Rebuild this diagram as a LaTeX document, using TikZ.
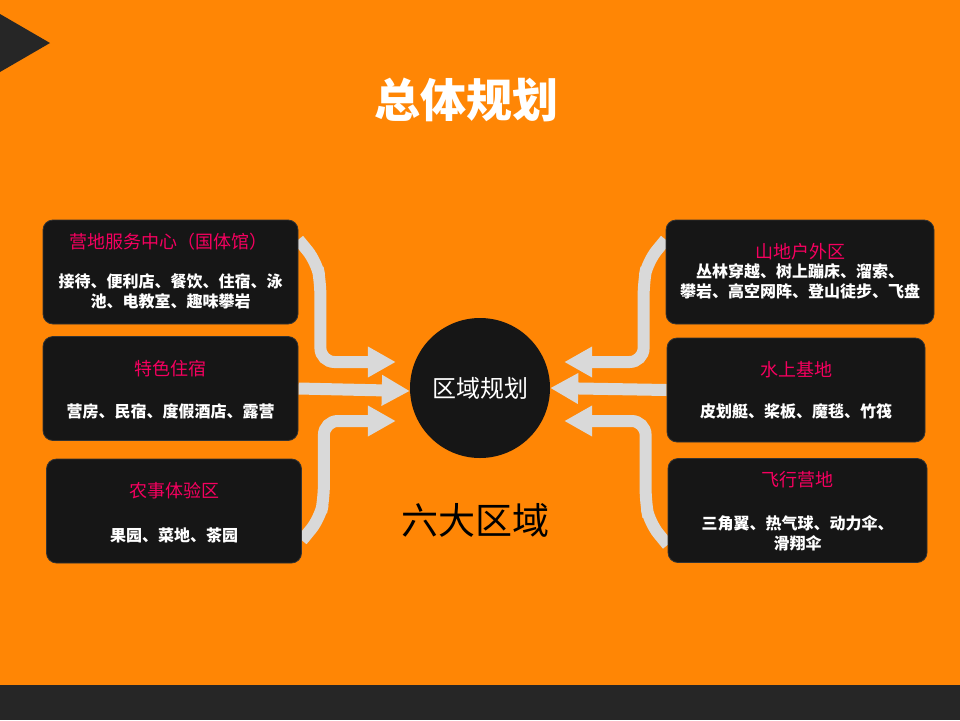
\documentclass[tikz,border=0pt]{standalone}
\usepackage{fontspec}
\setmainfont{Noto Sans CJK SC}
\usetikzlibrary{arrows.meta,calc}
\definecolor{bgorange}{HTML}{FF8605}
\definecolor{boxblack}{HTML}{161616}
\definecolor{bandgray}{HTML}{262626}
\definecolor{titlepink}{HTML}{F5005F}
\definecolor{flowgray}{HTML}{D9D9D9}
\pgfdeclarelayer{back}
\pgfdeclarelayer{flows}
\pgfsetlayers{back,flows,main}
\tikzset{
  zonebox/.style={draw=black!80, line width=0.8pt, fill=boxblack, rounded corners=10pt,
    minimum width=#1, minimum height=104pt, inner sep=0pt},
  zonebox/.default=255pt,
  zonetitle/.style={text=titlepink, font=\fontsize{18}{18}\selectfont, inner sep=0pt},
  zonebody/.style={text=white, font=\bfseries\fontsize{16}{19.5}\selectfont, align=center, inner sep=0pt},
  flow/.style={draw=flowgray, line width=12pt, rounded corners=14pt,
    -{Triangle[length=28pt,width=29pt]}},
}
\begin{document}
\begin{tikzpicture}[x=1pt, y=-1pt]
        \useasboundingbox (0,0) rectangle (960,720);
        \begin{pgfonlayer}{back}
        \fill[bgorange] (0,0) rectangle (960,720);
        \fill[bandgray] (0,685) rectangle (960,720);
        \fill[bandgray] (0,14) -- (50,43) -- (0,72) -- cycle;
        \end{pgfonlayer}
        % heading
        \node[text=white, font=\bfseries\fontsize{46}{46}\selectfont] (heading) at (466,100) {总体规划};
        % six zones
        \node[zonebox] (b1) at (170.5,272) {};
        \node[zonebox] (b2) at (170.5,388.5) {};
        \node[zonebox] (b3) at (174,511) {};
        \node[zonebox=268pt] (r1) at (800,272) {};
        \node[zonebox=258pt] (r2) at (796,390) {};
        \node[zonebox=259pt] (r3) at (797.5,510.5) {};
        \node[zonetitle] (b1t) at ($(b1.north)+(-2,22)$) {营地服务中心（国体馆）};
        \node[zonebody] (b1d) at ($(b1.north)+(0,72)$) {接待、便利店、餐饮、住宿、泳\\池、电教室、趣味攀岩};
        \node[zonetitle] (b2t) at ($(b2.north)+(0,33)$) {特色住宿};
        \node[zonebody] (b2d) at ($(b2.north)+(0,75)$) {营房、民宿、度假酒店、露营};
        \node[zonetitle] (b3t) at ($(b3.north)+(0,32)$) {农事体验区};
        \node[zonebody] (b3d) at ($(b3.north)+(0,77)$) {果园、菜地、茶园};
        \node[zonetitle] (r1t) at ($(r1.north)+(0,32)$) {山地户外区};
        \node[zonebody] (r1d) at ($(r1.north)+(0,61.5)$) {丛林穿越、树上蹦床、溜索、\\攀岩、高空网阵、登山徒步、飞盘};
        \node[zonetitle] (r2t) at ($(r2.north)+(0,32)$) {水上基地};
        \node[zonebody] (r2d) at ($(r2.north)+(0,74)$) {皮划艇、桨板、魔毯、竹筏};
        \node[zonetitle] (r3t) at ($(r3.north)+(0,22)$) {飞行营地};
        \node[zonebody] (r3d) at ($(r3.north)+(0,75)$) {三角翼、热气球、动力伞、\\滑翔伞};
        % hub
        \node[circle, fill=boxblack, minimum size=140pt, inner sep=0pt, text=white,
              font=\fontsize{24}{24}\selectfont] (hub) at (480,388) {区域规划};
        \node[font=\fontsize{37}{37}\selectfont] (six) at (475,520) {六大区域};
        \coordinate (hl1) at ($(hub.west)+(-14,-26)$);
        \coordinate (hl3) at ($(hub.west)+(-14,33)$);
        \coordinate (hr1) at ($(hub.east)+(14,-26)$);
        \coordinate (hr3) at ($(hub.east)+(14,33)$);
        % flows into the hub
        \begin{pgfonlayer}{flows}
        \draw[flow] ($(b1.north east)+(0,20)$) -- ++(18,22) -- ++(4,20) |- (hl1);
        \draw[flow] (b2.east) -- ($(hub.west)+(0,3)$);
        \draw[flow] ($(b3.south east)+(0,-23)$) -- ++(18,-22) -- ++(4,-20) |- (hl3);
        \draw[flow] ($(r1.north west)+(0,20)$) -- ++(-18,22) -- ++(-4,20) |- (hr1);
        \draw[flow] (r2.west) -- (hub.east);
        \draw[flow] ($(r3.south west)+(0,-18)$) -- ++(-18,-22) -- ++(-4,-20) |- (hr3);
        \end{pgfonlayer}
\end{tikzpicture}
\end{document}
